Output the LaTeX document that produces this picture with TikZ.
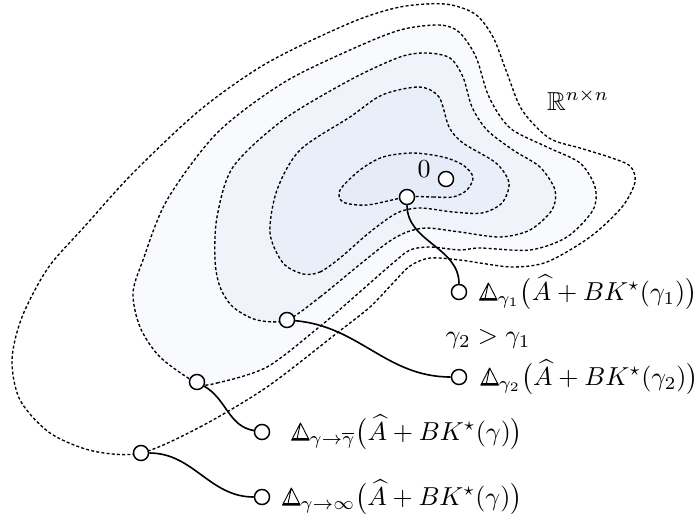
\documentclass[tikz,border=0pt]{standalone}
\usepackage{amsmath}
\usepackage{amssymb}
\usepackage{tikz}
\usetikzlibrary{positioning}

% double-struck Delta, drawn once and reused
\newsavebox{\bbDeltabox}
\sbox{\bbDeltabox}{\tikz[baseline=0pt, x=1em, y=1em, line width=0.035em, line join=round]{
  \draw (0,0) -- (0.68,0) -- (0.34,0.66) -- cycle (0.34,0.66) -- (0.2,0);
  \draw[line width=0.07em] (0.02,0.03) -- (0.66,0.03);}}
\newcommand{\bbDelta}{\mathord{\usebox{\bbDeltabox}}}

\definecolor{lvlA}{RGB}{248,250,253}
\definecolor{lvlB}{RGB}{240,244,250}
\definecolor{lvlC}{RGB}{233,239,248}
\definecolor{lvlD}{RGB}{230,236,247}

\tikzset{
  contour/.style={draw=black, line width=0.52pt, dash pattern=on 1.15pt off 0.85pt},
  spot/.style={circle, draw, fill=white, line width=0.57pt, minimum size=5.8pt, inner sep=0pt},
  link/.style={line width=0.62pt},
}

\begin{document}
\begin{tikzpicture}[x=0.385pt, y=-0.385pt]
\useasboundingbox (0,0) rectangle (698,520);

% sublevel sets, outermost first
\draw[contour] plot[smooth cycle] coordinates {
  (141,453) (200,427) (267,387) (337,333) (370,307) (393,283) (410,266) (430,258)
  (460,260) (480,263) (513,267) (547,262) (590,237) (622,207) (635,182) (630,166)
  (609,157) (580,148) (549,138) (522,110) (507,73) (493,37) (475,14) (445,4)
  (400,7) (350,23) (267,63) (200,110) (133,173) (85,226) (48,268) (22,317)
  (12,360) (20,400) (50,433) (93,451)};
\filldraw[contour, fill=lvlA] plot[smooth cycle] coordinates {
  (197,383) (217,383) (267,367) (318,328) (345,305) (370,283) (393,263) (410,250)
  (430,247) (460,250) (480,248) (530,250) (567,237) (593,210) (595,187) (580,163)
  (547,147) (510,128) (489,97) (476,57) (459,32) (439,25) (400,30) (350,50)
  (283,83) (217,133) (167,200) (143,260) (133,293) (140,327) (160,357)};
\filldraw[contour, fill=lvlB] plot[smooth cycle] coordinates {
  (287,320) (320,297) (353,270) (387,243) (407,232) (427,228) (460,232) (500,237)
  (530,230) (552,210) (555,190) (540,167) (513,150) (487,130) (472,107) (463,77)
  (450,58) (427,53) (400,57) (350,80) (283,120) (233,167) (217,217) (215,260)
  (220,287) (233,307) (257,320)};
\filldraw[contour, fill=lvlC] plot[smooth cycle] coordinates {
  (303,274) (320,272) (340,258) (370,232) (397,213) (420,208) (453,212) (482,213)
  (502,203) (509,183) (496,163) (463,143) (449,127) (439,97) (419,87) (382,95)
  (350,117) (300,150) (277,190) (270,233) (283,263)};
\filldraw[contour, fill=lvlD] plot[smooth cycle] coordinates {
  (407,197) (433,197) (453,197) (467,190) (473,177) (463,165) (443,157) (413,153)
  (383,157) (360,170) (340,190) (343,202) (367,205)};

% points
\node[spot] (zero) at (446,179) {};
\node[spot] (pone) at (407,197) {};
\node[spot] (poneend) at (459,292) {};
\node[spot] (ptwo) at (287,320) {};
\node[spot] (ptwoend) at (459,377) {};
\node[spot] (pthree) at (197,382) {};
\node[spot] (pthreeend) at (262,432) {};
\node[spot] (pfour) at (141,453) {};
\node[spot] (pfourend) at (262,497) {};

% connectors
\draw[link] (pone) to[out=-90, in=90] (poneend);
\draw[link] (ptwo) to[out=-5, in=180] (ptwoend);
\draw[link] (pthree) to[out=-30, in=170] (pthreeend);
\draw[link] (pfour) to[out=0, in=180] (pfourend);

% labels
\node (zerolabel) at (424,169) {$0$};
\node (space) at (578,100) {$\mathbb{R}^{n\times n}$};
\node[right=1pt of poneend] (lone) {$\bbDelta_{\gamma_1}\bigl(\widehat{A}+BK^\star(\gamma_1)\bigr)$};
\node[right=1.5pt of ptwoend] (ltwo) {$\bbDelta_{\gamma_2}\bigl(\widehat{A}+BK^\star(\gamma_2)\bigr)$};
\node (order) at (488,339) {$\gamma_2>\gamma_1$};
\node[right=4.5pt of pthreeend] (lthree) {$\bbDelta_{\gamma\to\overline{\gamma}}\bigl(\widehat{A}+BK^\star(\gamma)\bigr)$};
\node[right=1pt of pfourend] (lfour) {$\bbDelta_{\gamma\to\infty}\bigl(\widehat{A}+BK^\star(\gamma)\bigr)$};
\end{tikzpicture}
\end{document}
